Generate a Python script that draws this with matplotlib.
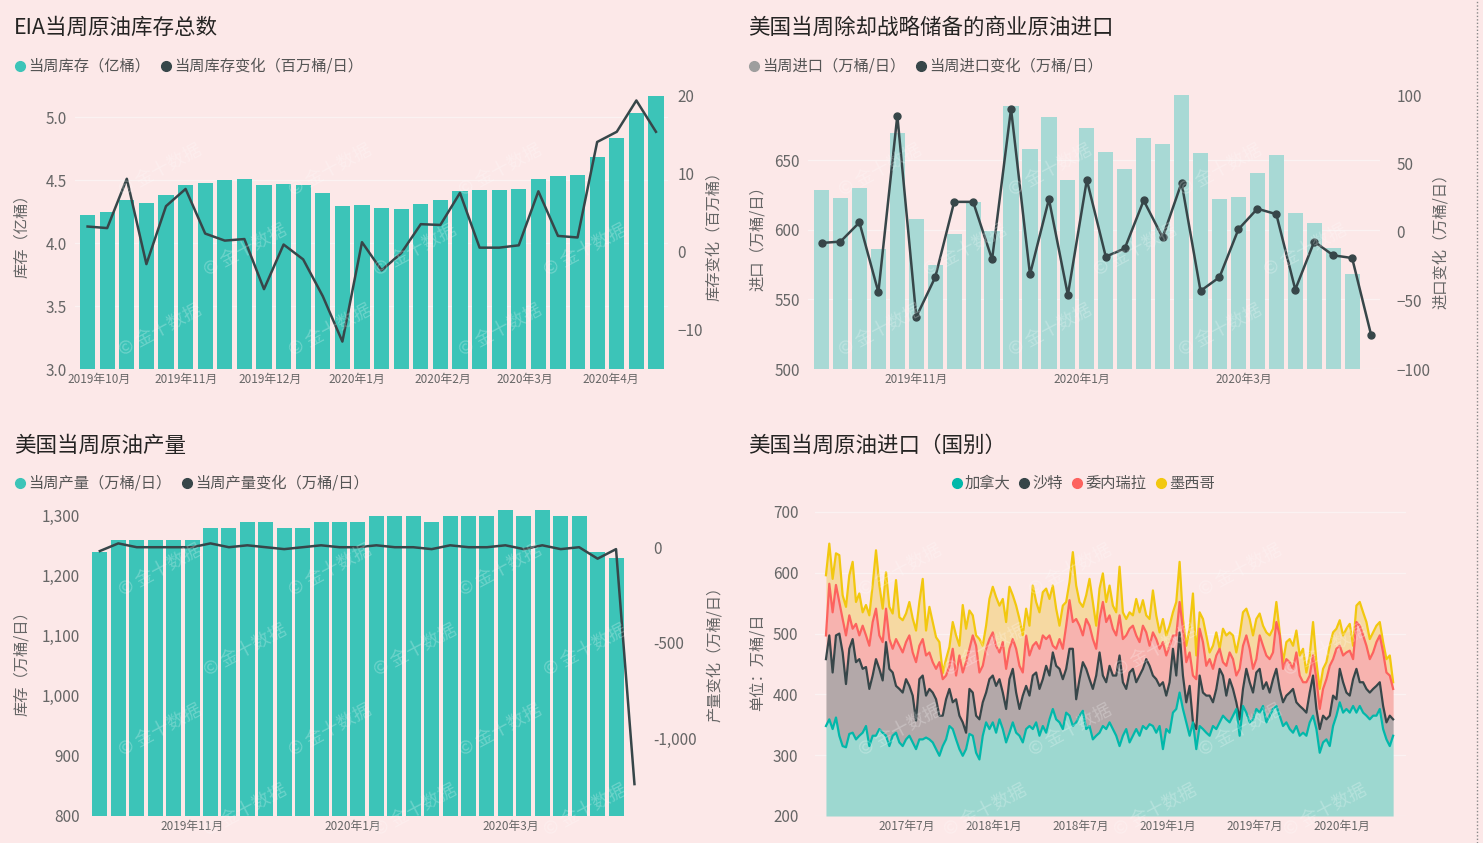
import numpy as np
import pandas as pd
import matplotlib
matplotlib.use("Agg")
import matplotlib.pyplot as plt
import matplotlib.dates as mdates
from matplotlib.lines import Line2D
from matplotlib.ticker import FuncFormatter, FixedLocator

plt.rcParams['font.family'] = ['Noto Sans CJK SC', 'DejaVu Sans']

# ---- data ----
weeks = pd.date_range('2019-09-27', periods=30, freq='7D')

# EIA 当周原油库存 (亿桶) and change (百万桶)
stock = [4.22, 4.25, 4.34, 4.32, 4.38, 4.46, 4.48, 4.50, 4.51, 4.46,
         4.47, 4.46, 4.40, 4.29, 4.30, 4.28, 4.27, 4.31, 4.34, 4.41,
         4.42, 4.42, 4.43, 4.51, 4.53, 4.54, 4.68, 4.83, 5.03, 5.17]
stock_chg = [3.2, 3.0, 9.3, -1.6, 5.8, 8.0, 2.3, 1.4, 1.6, -4.8,
             0.9, -1.0, -5.7, -11.5, 1.2, -2.4, -0.2, 3.5, 3.4, 7.5,
             0.5, 0.5, 0.8, 7.7, 2.0, 1.8, 14.0, 15.3, 19.3, 15.3]

# 商业原油进口 (万桶/日) and change
imports = [629, 623, 630, 586, 670, 608, 575, 597, 620, 599,
           689, 658, 681, 636, 673, 656, 644, 666, 662, 698,
           655, 622, 624, 641, 654, 612, 605, 587, 568, 493]
imports_chg = [-8, -7, 7, -44, 85, -62, -33, 22, 22, -20,
               90, -31, 24, -46, 38, -18, -12, 23, -4, 36,
               -43, -33, 2, 17, 13, -42, -7, -17, -19, -75]

# 原油产量 (万桶/日) and change; last week has no bar
prod = [1240, 1260, 1260, 1260, 1260, 1260, 1280, 1280, 1290, 1290,
        1280, 1280, 1290, 1290, 1290, 1300, 1300, 1300, 1290, 1300,
        1300, 1300, 1310, 1300, 1310, 1300, 1300, 1240, 1230, np.nan]
prod_chg = [-20, 20, 0, 0, 0, 0, 20, 0, 10, 0,
            -10, 0, 10, 0, 0, 10, 0, 0, -10, 10,
            0, 0, 10, -10, 10, -10, 0, -60, -10, -1240]

# 原油进口（国别）: stacked tops of each layer, weekly
weeks4 = pd.date_range('2017-01-13', periods=171, freq='7D')
top_canada = [
    348, 359, 343, 362, 332, 315, 313, 335, 337, 326, 332, 337, 348, 315, 332, 332, 343, 337, 332, 315,
    332, 337, 321, 315, 326, 332, 321, 310, 326, 326, 329, 326, 321, 310, 299, 315, 326, 348, 343, 326,
    310, 299, 310,
    335, 332, 304, 293, 332, 354, 343, 354, 337, 359, 343, 321, 337, 354, 337, 332, 321, 343, 348, 343,
    354, 332, 348, 337, 359, 376, 359, 354, 343, 370, 365, 348, 354, 365, 373, 343, 348, 326, 332, 337,
    348, 343, 354, 343,
    332, 315, 332, 343, 321, 332, 343, 332, 348, 343, 351, 348, 337, 348, 310, 343, 337, 370, 376, 403,
    376, 354, 332, 354, 310, 348, 343, 337, 332, 348, 343, 354, 365, 359, 354, 365, 376, 332, 381, 370,
    354, 359, 376,
    370, 381, 354, 365, 376, 381, 365, 348, 354, 343, 337, 348, 332, 337, 332, 354, 365, 343, 304, 321,
    326, 315, 348, 365, 387, 370, 376, 370, 381, 370, 381, 370, 365, 359, 365, 365, 376, 343, 326, 315,
    332]
top_saudi = [
    458, 497, 436, 497, 500, 469, 417, 475, 491, 453, 458, 442, 445, 409, 431, 458, 442, 423, 486, 442,
    436, 414, 409, 403, 425, 414, 398, 357, 425, 431, 398, 409, 403, 392, 365, 365, 392, 409, 387, 392,
    365, 354, 337,
    409, 403, 365, 359, 387, 403, 425, 431, 414, 425, 403, 376, 425, 442, 403, 376, 398, 414, 398, 431,
    436, 409, 425, 447, 431, 469, 447, 442, 425, 442, 475, 475, 392, 425, 453, 442, 425, 409, 431, 469,
    431, 420, 447, 431,
    431, 464, 420, 409, 436, 442, 420, 431, 442, 458, 447, 431, 425, 414, 420, 398, 420, 475, 431, 502,
    431, 387, 414, 354, 343, 431, 403, 398, 398, 387, 409, 442, 431, 398, 425, 409, 387, 359, 409, 442,
    420, 403, 436,
    442, 409, 420, 403, 425, 442, 409, 387, 398, 403, 409, 387, 381, 376, 370, 403, 431, 376, 343, 365,
    359, 365, 398, 392, 442, 420, 403, 398, 425, 442, 420, 420, 409, 403, 409, 414, 420, 381, 354, 365,
    359]
top_venez = [
    497, 582, 535, 580, 552, 524, 497, 530, 508, 516, 497, 513, 497, 480, 519, 541, 497, 486, 541, 491,
    475, 491, 480, 469, 486, 497, 469, 453, 480, 491, 464, 469, 453, 442, 453, 425, 431, 447, 475, 431,
    464, 436, 453,
    475, 497, 480, 436, 447, 475, 491, 502, 480, 469, 486, 442, 475, 491, 475, 447, 436, 497, 464, 480,
    486, 475, 497, 491, 497, 480, 475, 491, 475, 513, 555, 519, 524, 513, 497, 524, 513, 491, 475, 524,
    552, 519, 530, 508,
    497, 530, 491, 497, 508, 513, 497, 486, 513, 502, 480, 502, 491, 475, 486, 464, 480, 497, 497, 552,
    508, 453, 469, 431, 425, 508, 486, 447, 458, 442, 464, 475, 453, 447, 469, 458, 431, 442, 480, 497,
    475, 442, 458,
    497, 480, 464, 458, 469, 519, 497, 442, 458, 453, 442, 469, 431, 420, 420, 431, 464, 425, 376, 409,
    425, 447, 458, 475, 480, 464, 469, 472, 458, 519, 513, 497, 480, 458, 469, 486, 497, 469, 436, 431,
    409]
top_mexico = [
    596, 648, 590, 632, 629, 563, 544, 596, 618, 552, 566, 535, 547, 530, 580, 637, 580, 541, 601, 544,
    533, 588, 527, 522, 533, 552, 525, 505, 552, 590, 505, 544, 519, 494, 486, 435, 458, 478, 519, 497,
    480, 547, 508,
    538, 530, 497, 491, 480, 513, 557, 577, 560, 546, 557, 519, 577, 563, 546, 524, 497, 541, 513, 579,
    552, 535, 568, 574, 557, 579, 541, 513, 546, 552, 585, 634, 579, 552, 544, 563, 590, 552, 513, 574,
    599, 552, 579, 546,
    535, 610, 535, 524, 535, 530, 557, 535, 555, 530, 524, 571, 530, 502, 524, 497, 513, 535, 552, 618,
    524, 480, 508, 566, 464, 535, 524, 497, 469, 480, 502, 469, 508, 497, 502, 497, 469, 497, 535, 541,
    524, 497, 524,
    533, 513, 502, 497, 508, 552, 502, 453, 486, 491, 480, 505, 464, 475, 436, 464, 519, 453, 409, 442,
    453, 480, 502, 508, 522, 497, 508, 516, 480, 546, 552, 535, 519, 491, 502, 513, 519, 486, 458, 464,
    420]

# ---- style ----
W, H = 1483, 843
BG = '#fce8e8'
BAR = '#3cc4b8'
BAR_LIGHT = '#a8d9d5'
DARK = '#374649'
GREY = '#666666'
TITLE = '#252423'
GRID = '#fbf2f2'
C_TEAL, C_DARK, C_RED, C_YEL = '#01b8aa', '#374649', '#fd625e', '#f2c80f'

fig = plt.figure(figsize=(W / 100, H / 100), dpi=100, facecolor=BG)


def fx(x):
    return x / W


def fy(y):
    return 1 - y / H


def make_ax(x0, y0, x1, y1):
    ax = fig.add_axes([fx(x0), fy(y1), (x1 - x0) / W, (y1 - y0) / H])
    ax.set_facecolor('none')
    ax.set_axisbelow(True)
    for s in ax.spines.values():
        s.set_visible(False)
    ax.tick_params(length=0, labelcolor=GREY, labelsize=11)
    ax.tick_params(axis='x', labelsize=8.5)
    return ax


def twin(ax):
    a2 = ax.twinx()
    a2.set_facecolor('none')
    for s in a2.spines.values():
        s.set_visible(False)
    a2.tick_params(length=0, labelcolor=GREY, labelsize=11)
    return a2


def month_fmt(v, pos):
    d = mdates.num2date(v)
    return f"{d.year}年{d.month}月"


def legend(items, y):
    for x, col, txt in items:
        fig.add_artist(Line2D([fx(x)], [fy(y)], marker='o', ms=7, color=col,
                              transform=fig.transFigure))
        fig.text(fx(x + 8), fy(y), txt, fontsize=11, color='#555555',
                 va='center', ha='left')


def title(x, y, txt):
    fig.text(fx(x), fy(y), txt, fontsize=15.5, color=TITLE, va='center', ha='left')


def ylabel(x, y, txt):
    fig.text(fx(x), fy(y), txt, fontsize=11, color=GREY, rotation=90,
             va='center', ha='center')


def watermarks(x0, x1, y0, y1):
    # faint "金十数据" marks tiled over a chart
    row = 0
    for y in range(y0, y1, 80):
        off = 85 if row % 2 else 0
        for x in range(x0 + off, x1, 170):
            fig.text(fx(x), fy(y), "© 金十数据", fontsize=13, color='white',
                     alpha=0.25, rotation=28, ha='center', va='center', zorder=5)
        row += 1


day = pd.Timedelta(days=1)

# ---- chart 1: EIA 库存 ----
title(14, 28, "EIA当周原油库存总数")
legend([(20, BAR, "当周库存（亿桶）"), (166, DARK, "当周库存变化（百万桶/日）")], 66)
ax1 = make_ax(75, 95, 668, 369)
ax1.bar(weeks, stock, width=5.4, color=BAR, zorder=2)
ax1.set_ylim(3.0, 5.175)
ax1.yaxis.set_major_locator(FixedLocator([3.0, 3.5, 4.0, 4.5, 5.0]))
ax1.yaxis.set_major_formatter(FuncFormatter(lambda v, p: f"{v:.1f}"))
ax1.grid(axis='y', color=GRID, lw=1)
ax1.set_xlim(weeks[0] - 4.5 * day, weeks[-1] + 4.3 * day)
ax1.xaxis.set_major_locator(mdates.MonthLocator())
ax1.xaxis.set_major_formatter(FuncFormatter(month_fmt))
ax1.tick_params(axis='x', pad=3)
ax1.tick_params(axis='y', pad=6)
ax1b = twin(ax1)
ax1b.plot(weeks, stock_chg, color=DARK, lw=1.8, zorder=3)
ax1b.set_ylim(-15, 20)
ax1b.yaxis.set_major_locator(FixedLocator([-10, 0, 10, 20]))
ax1b.tick_params(axis='y', pad=7)
ylabel(22, 232, "库存（亿桶）")
ylabel(714, 232, "库存变化（百万桶）")

# ---- chart 2: 商业原油进口 ----
title(748, 28, "美国当周除却战略储备的商业原油进口")
legend([(754, '#9e9e9e', "当周进口（万桶/日）"), (921, DARK, "当周进口变化（万桶/日）")], 66)
ax2 = make_ax(808, 95, 1380, 369)
ax2.bar(weeks, imports, width=5.6, color=BAR_LIGHT, zorder=2)
ax2.set_ylim(500, 697)
ax2.yaxis.set_major_locator(FixedLocator([500, 550, 600, 650]))
ax2.grid(axis='y', color=GRID, lw=1)
ax2.set_xlim(weeks[0] - 5 * day, weeks[-1] + 3.3 * day)
ax2.xaxis.set_major_locator(mdates.MonthLocator(bymonth=[1, 3, 5, 7, 9, 11]))
ax2.xaxis.set_major_formatter(FuncFormatter(month_fmt))
ax2.tick_params(axis='x', pad=3)
ax2.tick_params(axis='y', pad=6)
ax2b = twin(ax2)
ax2b.plot(weeks, imports_chg, color=DARK, lw=1.8, marker='o', ms=5, zorder=3)
ax2b.set_ylim(-100, 100)
ax2b.yaxis.set_major_locator(FixedLocator([-100, -50, 0, 50, 100]))
ax2b.tick_params(axis='y', pad=12)
ylabel(757, 235, "进口（万桶/日）")
ylabel(1440, 237, "进口变化（万桶/日）")

# ---- chart 3: 原油产量 ----
title(14, 446, "美国当周原油产量")
legend([(20, BAR, "当周产量（万桶/日）"), (187, DARK, "当周产量变化（万桶/日）")], 483)
ax3 = make_ax(88, 505, 645, 816)
ax3.bar(weeks, prod, width=5.7, color=BAR, zorder=2)
ax3.set_ylim(800, 1318)
ax3.yaxis.set_major_locator(FixedLocator([800, 900, 1000, 1100, 1200, 1300]))
ax3.yaxis.set_major_formatter(FuncFormatter(lambda v, p: f"{v:,.0f}"))
ax3.set_xlim(weeks[0] - 4.5 * day, weeks[-1] + 4 * day)
ax3.xaxis.set_major_locator(mdates.MonthLocator(bymonth=[1, 3, 5, 7, 9, 11]))
ax3.xaxis.set_major_formatter(FuncFormatter(month_fmt))
ax3.tick_params(axis='x', pad=3)
ax3.tick_params(axis='y', pad=6)
ax3b = twin(ax3)
ax3b.plot(weeks, prod_chg, color=DARK, lw=1.8, zorder=3)
ax3b.set_ylim(-1407, 221)
ax3b.yaxis.set_major_locator(FixedLocator([-1000, -500, 0]))
ax3b.yaxis.set_major_formatter(FuncFormatter(lambda v, p: f"{v:,.0f}"))
ax3b.tick_params(axis='y', pad=6)
ylabel(22, 660, "库存（万桶/日）")
ylabel(715, 650, "产量变化（万桶/日）")

# ---- chart 4: 原油进口（国别） ----
title(748, 446, "美国当周原油进口（国别）")
legend([(957, C_TEAL, "加拿大"), (1024, C_DARK, "沙特"),
        (1077, C_RED, "委内瑞拉"), (1161, C_YEL, "墨西哥")], 483)
ax4 = make_ax(815, 505, 1406, 816)
t_can = np.array(top_canada, dtype=float)
t_sau = np.maximum(np.array(top_saudi, dtype=float), t_can)
t_ven = np.maximum(np.array(top_venez, dtype=float), t_sau)
t_mex = np.maximum(np.array(top_mexico, dtype=float), t_ven)
ax4.fill_between(weeks4, t_ven, t_mex, color='#f6d9a2', lw=0, zorder=1)
ax4.fill_between(weeks4, t_sau, t_ven, color='#f7b3af', lw=0, zorder=1)
ax4.fill_between(weeks4, t_can, t_sau, color='#b3a8a9', lw=0, zorder=1)
ax4.fill_between(weeks4, 200, t_can, color='#9dd8d0', lw=0, zorder=1)
ax4.plot(weeks4, t_mex, color=C_YEL, lw=1.6, zorder=3)
ax4.plot(weeks4, t_ven, color=C_RED, lw=1.6, zorder=3)
ax4.plot(weeks4, t_sau, color=C_DARK, lw=1.6, zorder=3)
ax4.plot(weeks4, t_can, color=C_TEAL, lw=1.6, zorder=3)
ax4.set_ylim(200, 711.5)
ax4.yaxis.set_major_locator(FixedLocator([200, 300, 400, 500, 600, 700]))
ax4.grid(axis='y', color=GRID, lw=1)
ax4.set_xlim(weeks4[0] - 23 * day, weeks4[-1] + 27 * day)
ax4.xaxis.set_major_locator(mdates.MonthLocator(bymonth=[1, 7]))
ax4.xaxis.set_major_formatter(FuncFormatter(month_fmt))
ax4.set_xticks([t for t in ax4.get_xticks() if t > mdates.date2num(pd.Timestamp('2017-03-01'))])
ax4.tick_params(axis='x', pad=3)
ax4.tick_params(axis='y', pad=12)
ylabel(757, 662, "单位：万桶/日")

# faint watermarks over the four charts
watermarks(160, 660, 170, 370)
watermarks(880, 1370, 170, 370)
watermarks(160, 620, 570, 815)
watermarks(900, 1390, 570, 815)

# dotted frame edge on the right
fig.add_artist(Line2D([fx(1477), fx(1477)], [0, 1], color='#888888', lw=1,
                      ls=(0, (1, 1.5)), transform=fig.transFigure))

fig.savefig('out.png', dpi=100, facecolor=BG)
